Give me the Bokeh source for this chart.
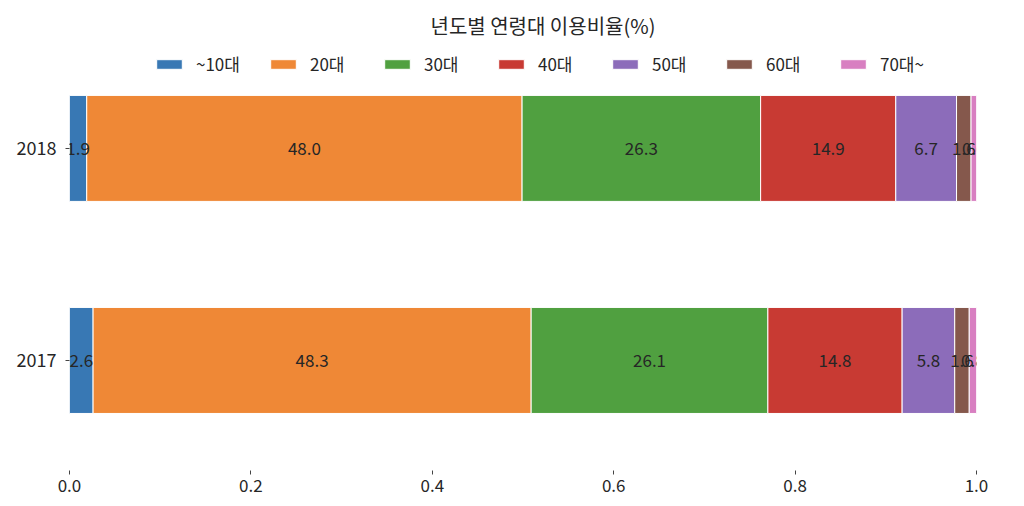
from bokeh.plotting import figure
from bokeh.models import ColumnDataSource, Range1d, FixedTicker, PrintfTickFormatter
from bokeh.core.properties import value
from bokeh.embed import file_html
from bokeh.resources import INLINE

years = ["2017", "2018"]
groups = ["~10대", "20대", "30대", "40대", "50대", "60대", "70대~"]
teens = [2.6, 1.9]
twenties = [48.3, 48.0]
thirties = [26.1, 26.3]
forties = [14.8, 14.9]
fifties = [5.8, 6.7]
sixties = [1.6, 1.6]
seventies = [0.8, 0.6]
x_ticks = [0.0, 0.2, 0.4, 0.6, 0.8, 1.0]
title_text = "년도별 연령대 이용비율(%)"

series = [teens, twenties, thirties, forties, fifties, sixties, seventies]
colors = ["#3878b4", "#ef8836", "#50a040", "#c83a33", "#8c6cba", "#85584c", "#d87fc1"]
FONT = "Noto Sans CJK KR"
FS = "17px"

keys = [f"g{i}" for i in range(len(groups))]
data = {"y": list(range(len(years)))}
for k, s in zip(keys, series):
    data[k] = [v / 100.0 for v in s]
source = ColumnDataSource(data)

p = figure(width=1010, height=504, output_backend="svg", toolbar_location=None,
           x_range=Range1d(0, 1.0), y_range=Range1d(-0.519, 1.49),
           min_border_left=69, min_border_right=34, min_border_top=44, min_border_bottom=34)

p.hbar_stack(keys, y="y", height=0.5, color=colors, line_color="white", line_width=1,
             source=source, legend_label=groups)

# labels at segment centres
lx, ly, lt = [], [], []
for yi in range(len(years)):
    cum = 0.0
    for s in series:
        w = s[yi] / 100.0
        lx.append(cum + w / 2)
        ly.append(yi)
        lt.append(f"{s[yi]:.1f}")
        cum += w
p.text(x=lx, y=ly, text=lt, text_align="center", text_baseline="middle",
       text_font=value(FONT), text_font_size=FS, text_color="#262626")

p.title.text = title_text
p.title.align = "left"
p.title.offset = 361
p.title.text_font = FONT
p.title.text_font_size = "20px"
p.title.text_font_style = "normal"
p.title.text_color = "#262626"
p.title.standoff = 10

p.xaxis.ticker = FixedTicker(ticks=x_ticks)
p.xaxis.formatter = PrintfTickFormatter(format="%.1f")
p.yaxis.ticker = FixedTicker(ticks=[0, 1])
p.yaxis.major_label_overrides = {i: y for i, y in enumerate(years)}
for ax in (p.xaxis, p.yaxis):
    ax.axis_line_color = None
    ax.major_tick_in = 0
    ax.major_tick_out = 4
    ax.minor_tick_line_color = None
    ax.major_tick_line_color = "#444444"
    ax.major_label_text_font = FONT
    ax.major_label_text_font_size = FS
    ax.major_label_text_color = "#262626"
p.xaxis.major_label_standoff = 4
p.yaxis.major_label_standoff = 9
p.yaxis.major_label_text_font_size = "18px"

p.xgrid.grid_line_color = None
p.ygrid.grid_line_color = None
p.outline_line_color = None

lg = p.legend[0]
lg.orientation = "horizontal"
lg.location = (84, 394)
lg.border_line_color = None
lg.background_fill_alpha = 0
lg.glyph_width = 32
lg.glyph_height = 12
lg.label_standoff = 11
lg.label_width = 59
lg.spacing = 12
lg.padding = 6
lg.margin = 0
lg.label_text_font = FONT
lg.label_text_font_size = FS
lg.label_text_color = "#262626"

open("out.html", "w").write(file_html(p, INLINE))
